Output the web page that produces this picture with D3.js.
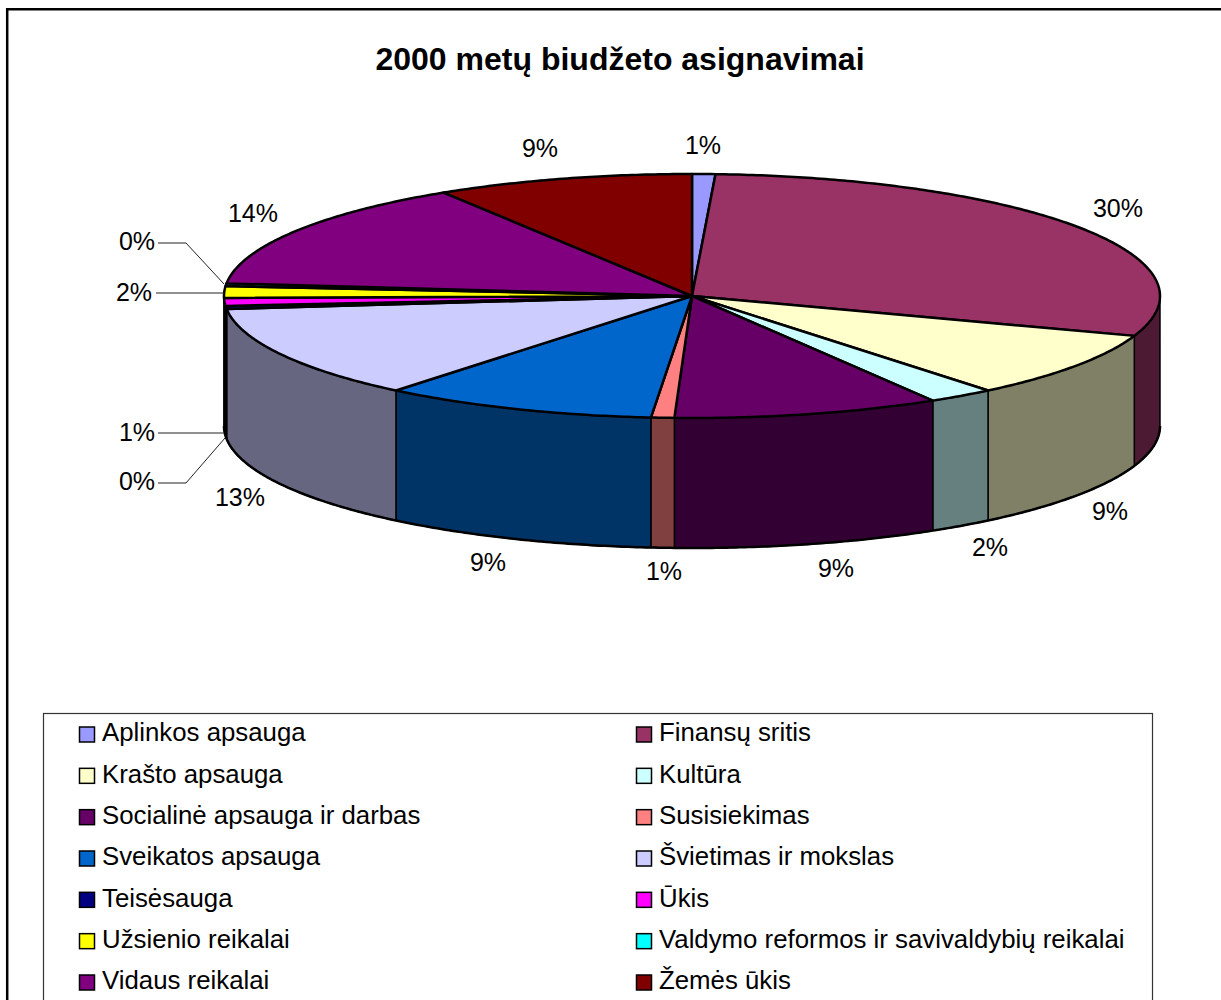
<!DOCTYPE html>
<html>
<head>
<meta charset="utf-8">
<script src="https://cdn.jsdelivr.net/npm/d3@7"></script>
<style>
    html, body { margin: 0; padding: 0; background: #fff; overflow: hidden; }
    text { font-family: "Liberation Sans", Arial, sans-serif; fill: #000; }
</style>
</head>
<body>
<svg id="chart" width="1221" height="1000"></svg>
<script>
const title = "2000 metų biudžeto asignavimai";

const categories = [
    "Aplinkos apsauga", "Finansų sritis", "Krašto apsauga", "Kultūra",
    "Socialinė apsauga ir darbas", "Susisiekimas", "Sveikatos apsauga", "Švietimas ir mokslas",
    "Teisėsauga", "Ūkis", "Užsienio reikalai", "Valdymo reformos ir savivaldybių reikalai",
    "Vidaus reikalai", "Žemės ūkis"
];

// shares as they appear on the drawn ellipse, percent
const shares = [0.8, 29.5, 8.8, 2.3, 9.2, 0.8, 9.5, 12.4, 0.4, 1.05, 1.55, 0.35, 14.45, 8.9];

const shareLabels = ["1%", "30%", "9%", "2%", "9%", "1%", "9%", "13%", "0%", "1%", "2%", "0%", "14%", "9%"];

const colors = [
    "#9999FF", "#993366", "#FFFFCC", "#CCFFFF", "#660066", "#FF8080", "#0066CC",
    "#CCCCFF", "#000080", "#FF00FF", "#FFFF00", "#00FFFF", "#800080", "#800000"
];

// label centres, same order as categories
const labelPos = [
    [703, 145], [1118, 208], [1110, 511], [990, 547], [836, 568], [664, 571], [488, 562],
    [240, 497], [137, 481], [137, 432], [134, 292], [137, 241], [253, 213], [540, 148]
];

// leader lines for the thin slices
const leaders = [
    [[158, 483], [186, 483], [225, 438]],
    [[158, 433], [224, 433]],
    [[156, 293], [224, 293]],
    [[158, 243], [186, 243], [224, 284]]
];

const svg = d3.select("#chart");

const cx = 692, cy = 296, rx = 468, ry = 122, depth = 130;

// frame of the chart area, the right side is cut off in the picture
svg.append("path")
    .attr("d", "M7.2 1000V9.2H1221")
    .attr("fill", "none")
    .attr("stroke", "#000")
    .attr("stroke-width", 2.5);

svg.append("text")
    .attr("x", 620).attr("y", 70)
    .attr("text-anchor", "middle")
    .style("font-size", "32px")
    .style("font-weight", "bold")
    .text(title);

const arcs = d3.pie().sort(null).startAngle(0).endAngle(2 * Math.PI)(shares);

const px = a => cx + rx * Math.sin(a);
const py = a => cy - ry * Math.cos(a);
const line = d3.line();

function rim(a0, a1, dy) {
    const n = Math.max(2, Math.ceil((a1 - a0) / 0.01));
    return d3.range(n + 1).map(i => {
        const a = a0 + (a1 - a0) * i / n;
        return [px(a), py(a) + dy];
    });
}

// side walls, only the front half can be seen
const wallGroup = svg.append("g");
arcs.forEach((d, i) => {
    const a0 = Math.max(d.startAngle, Math.PI / 2);
    const a1 = Math.min(d.endAngle, 3 * Math.PI / 2);
    if (a1 <= a0) return;
    const pts = rim(a0, a1, 0).concat(rim(a0, a1, depth).reverse());
    wallGroup.append("path")
        .attr("d", line(pts) + "Z")
        .attr("fill", d3.interpolateRgb(colors[i], "#000")(0.5))
        .attr("stroke", "#000")
        .attr("stroke-width", 1.5)
        .attr("stroke-linejoin", "round");
    wallGroup.append("path")
        .attr("d", line(rim(a0, a1, depth)))
        .attr("fill", "none")
        .attr("stroke", "#000")
        .attr("stroke-width", 2.5);
});

// top face
const topGroup = svg.append("g");
arcs.forEach((d, i) => {
    const pts = [[cx, cy]].concat(rim(d.startAngle, d.endAngle, 0));
    topGroup.append("path")
        .attr("d", line(pts) + "Z")
        .attr("fill", colors[i])
        .attr("stroke", "#000")
        .attr("stroke-width", 2.5)
        .attr("stroke-linejoin", "round");
});

svg.append("g").selectAll("path")
    .data(leaders)
    .join("path")
    .attr("d", d => line(d))
    .attr("fill", "none")
    .attr("stroke", "#222")
    .attr("stroke-width", 1);

svg.append("g").selectAll("text")
    .data(shareLabels)
    .join("text")
    .attr("x", (d, i) => labelPos[i][0])
    .attr("y", (d, i) => labelPos[i][1])
    .attr("dy", "0.36em")
    .attr("text-anchor", "middle")
    .style("font-size", "25px")
    .text(d => d);

// legend
svg.append("rect")
    .attr("x", 43.5).attr("y", 713.5)
    .attr("width", 1109).attr("height", 320)
    .attr("fill", "#fff")
    .attr("stroke", "#333")
    .attr("stroke-width", 1.2);

const legendX = d3.scaleOrdinal().domain([0, 1]).range([79, 636]);
const legendY = d3.scaleLinear().domain([0, 6]).range([733, 981]);

const legendItem = svg.append("g").selectAll("g")
    .data(categories)
    .join("g")
    .attr("transform", (d, i) => `translate(${legendX(i % 2)},${legendY(Math.floor(i / 2))})`);

legendItem.append("rect")
    .attr("x", 0.5).attr("y", -6)
    .attr("width", 15).attr("height", 15)
    .attr("fill", (d, i) => colors[i])
    .attr("stroke", "#000")
    .attr("stroke-width", 1.5);

legendItem.append("text")
    .attr("x", 23)
    .attr("y", -1)
    .attr("dy", "0.36em")
    .style("font-size", "25.8px")
    .text(d => d);
</script>
</body>
</html>
